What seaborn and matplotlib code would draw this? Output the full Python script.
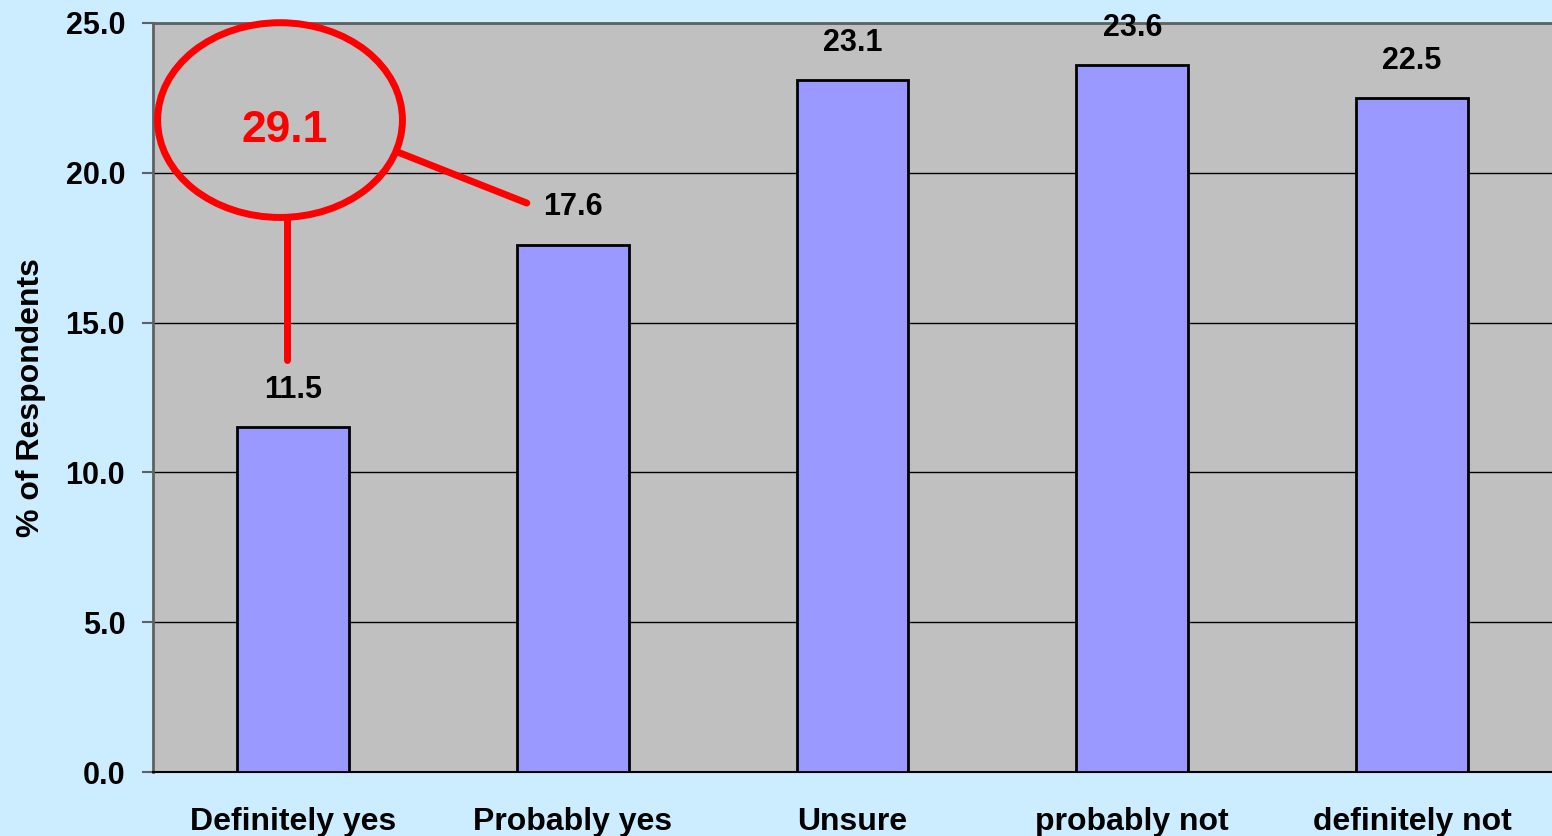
import numpy as np
import pandas as pd
import matplotlib
matplotlib.use("Agg")
import matplotlib.pyplot as plt
from matplotlib.patches import Ellipse
import seaborn as sns

# data
categories = ["Definitely yes", "Probably yes", "Unsure", "probably not", "definitely not"]
percent = [11.5, 17.6, 23.1, 23.6, 22.5]
callout_value = "29.1"
y_ticks = [0.0, 5.0, 10.0, 15.0, 20.0, 25.0]

df = pd.DataFrame({"answer": categories, "pct": percent})

sns.set_style("white")
plt.rcParams["font.family"] = ["Liberation Sans", "DejaVu Sans"]
plt.rcParams["font.weight"] = "bold"
plt.rcParams["text.color"] = "black"
plt.rcParams["axes.labelcolor"] = "black"
plt.rcParams["xtick.labelcolor"] = "black"
plt.rcParams["ytick.labelcolor"] = "black"

fig = plt.figure(figsize=(15.52, 8.36), dpi=100)
fig.patch.set_facecolor("#CCECFF")
ax = fig.add_axes([153 / 1552, 1 - 772 / 836, 1 - 153 / 1552, (772 - 23) / 836])
ax.set_facecolor("#C0C0C0")

sns.barplot(data=df, x="answer", y="pct", color="#9999FF", width=0.4,
            edgecolor="black", linewidth=2, saturation=1, ax=ax, zorder=3)

ax.set_xlim(-0.5, 4.5)
ax.set_ylim(0, 25)
ax.set_yticks(y_ticks)
ax.set_yticklabels([f"{v:.1f}" for v in y_ticks], fontsize=22, fontweight="bold",
                   color="black")
ax.yaxis.grid(True, color="black", linewidth=1, zorder=0)
ax.set_axisbelow(True)

# x: labels at centres, tick marks at category borders
ax.set_xticks(range(len(categories)))
ax.set_xticklabels(categories, fontsize=23, fontweight="bold", color="black")
ax.tick_params(axis="x", which="major", length=0, pad=25)
ax.set_xticks(np.arange(-0.5, len(categories), 1), minor=True)
ax.tick_params(axis="x", which="minor", length=8, width=1.5, color="#606060")
ax.tick_params(axis="y", length=8, width=1.5, color="#606060", pad=12, left=True)

ax.set_xlabel("")
ax.set_ylabel("% of Respondents", fontsize=23, fontweight="bold", labelpad=14,
              color="black")

for side in ["left", "top"]:
    ax.spines[side].set_color("#606060")
    ax.spines[side].set_linewidth(2)
ax.spines["bottom"].set_color("black")
ax.spines["bottom"].set_linewidth(1.5)
ax.spines["right"].set_visible(False)

ax.bar_label(ax.containers[0], labels=[f"{v:.1f}" for v in percent],
             padding=16, fontsize=22, fontweight="bold", color="black")

# red call-out
ax.add_patch(Ellipse((-0.046, 21.76), 0.875, 6.5, fill=False,
                     edgecolor="red", linewidth=5, zorder=5, clip_on=False))
ax.plot([-0.02, -0.02], [18.5, 13.75], color="red", linewidth=5, zorder=5)
ax.plot([0.375, 0.836], [20.69, 18.99], color="red", linewidth=5, zorder=5)
ax.text(-0.03, 21.4, callout_value, color="red", fontsize=32, fontweight="bold",
        ha="center", va="center", zorder=6)

plt.savefig("out.png", dpi=100, facecolor=fig.get_facecolor())
